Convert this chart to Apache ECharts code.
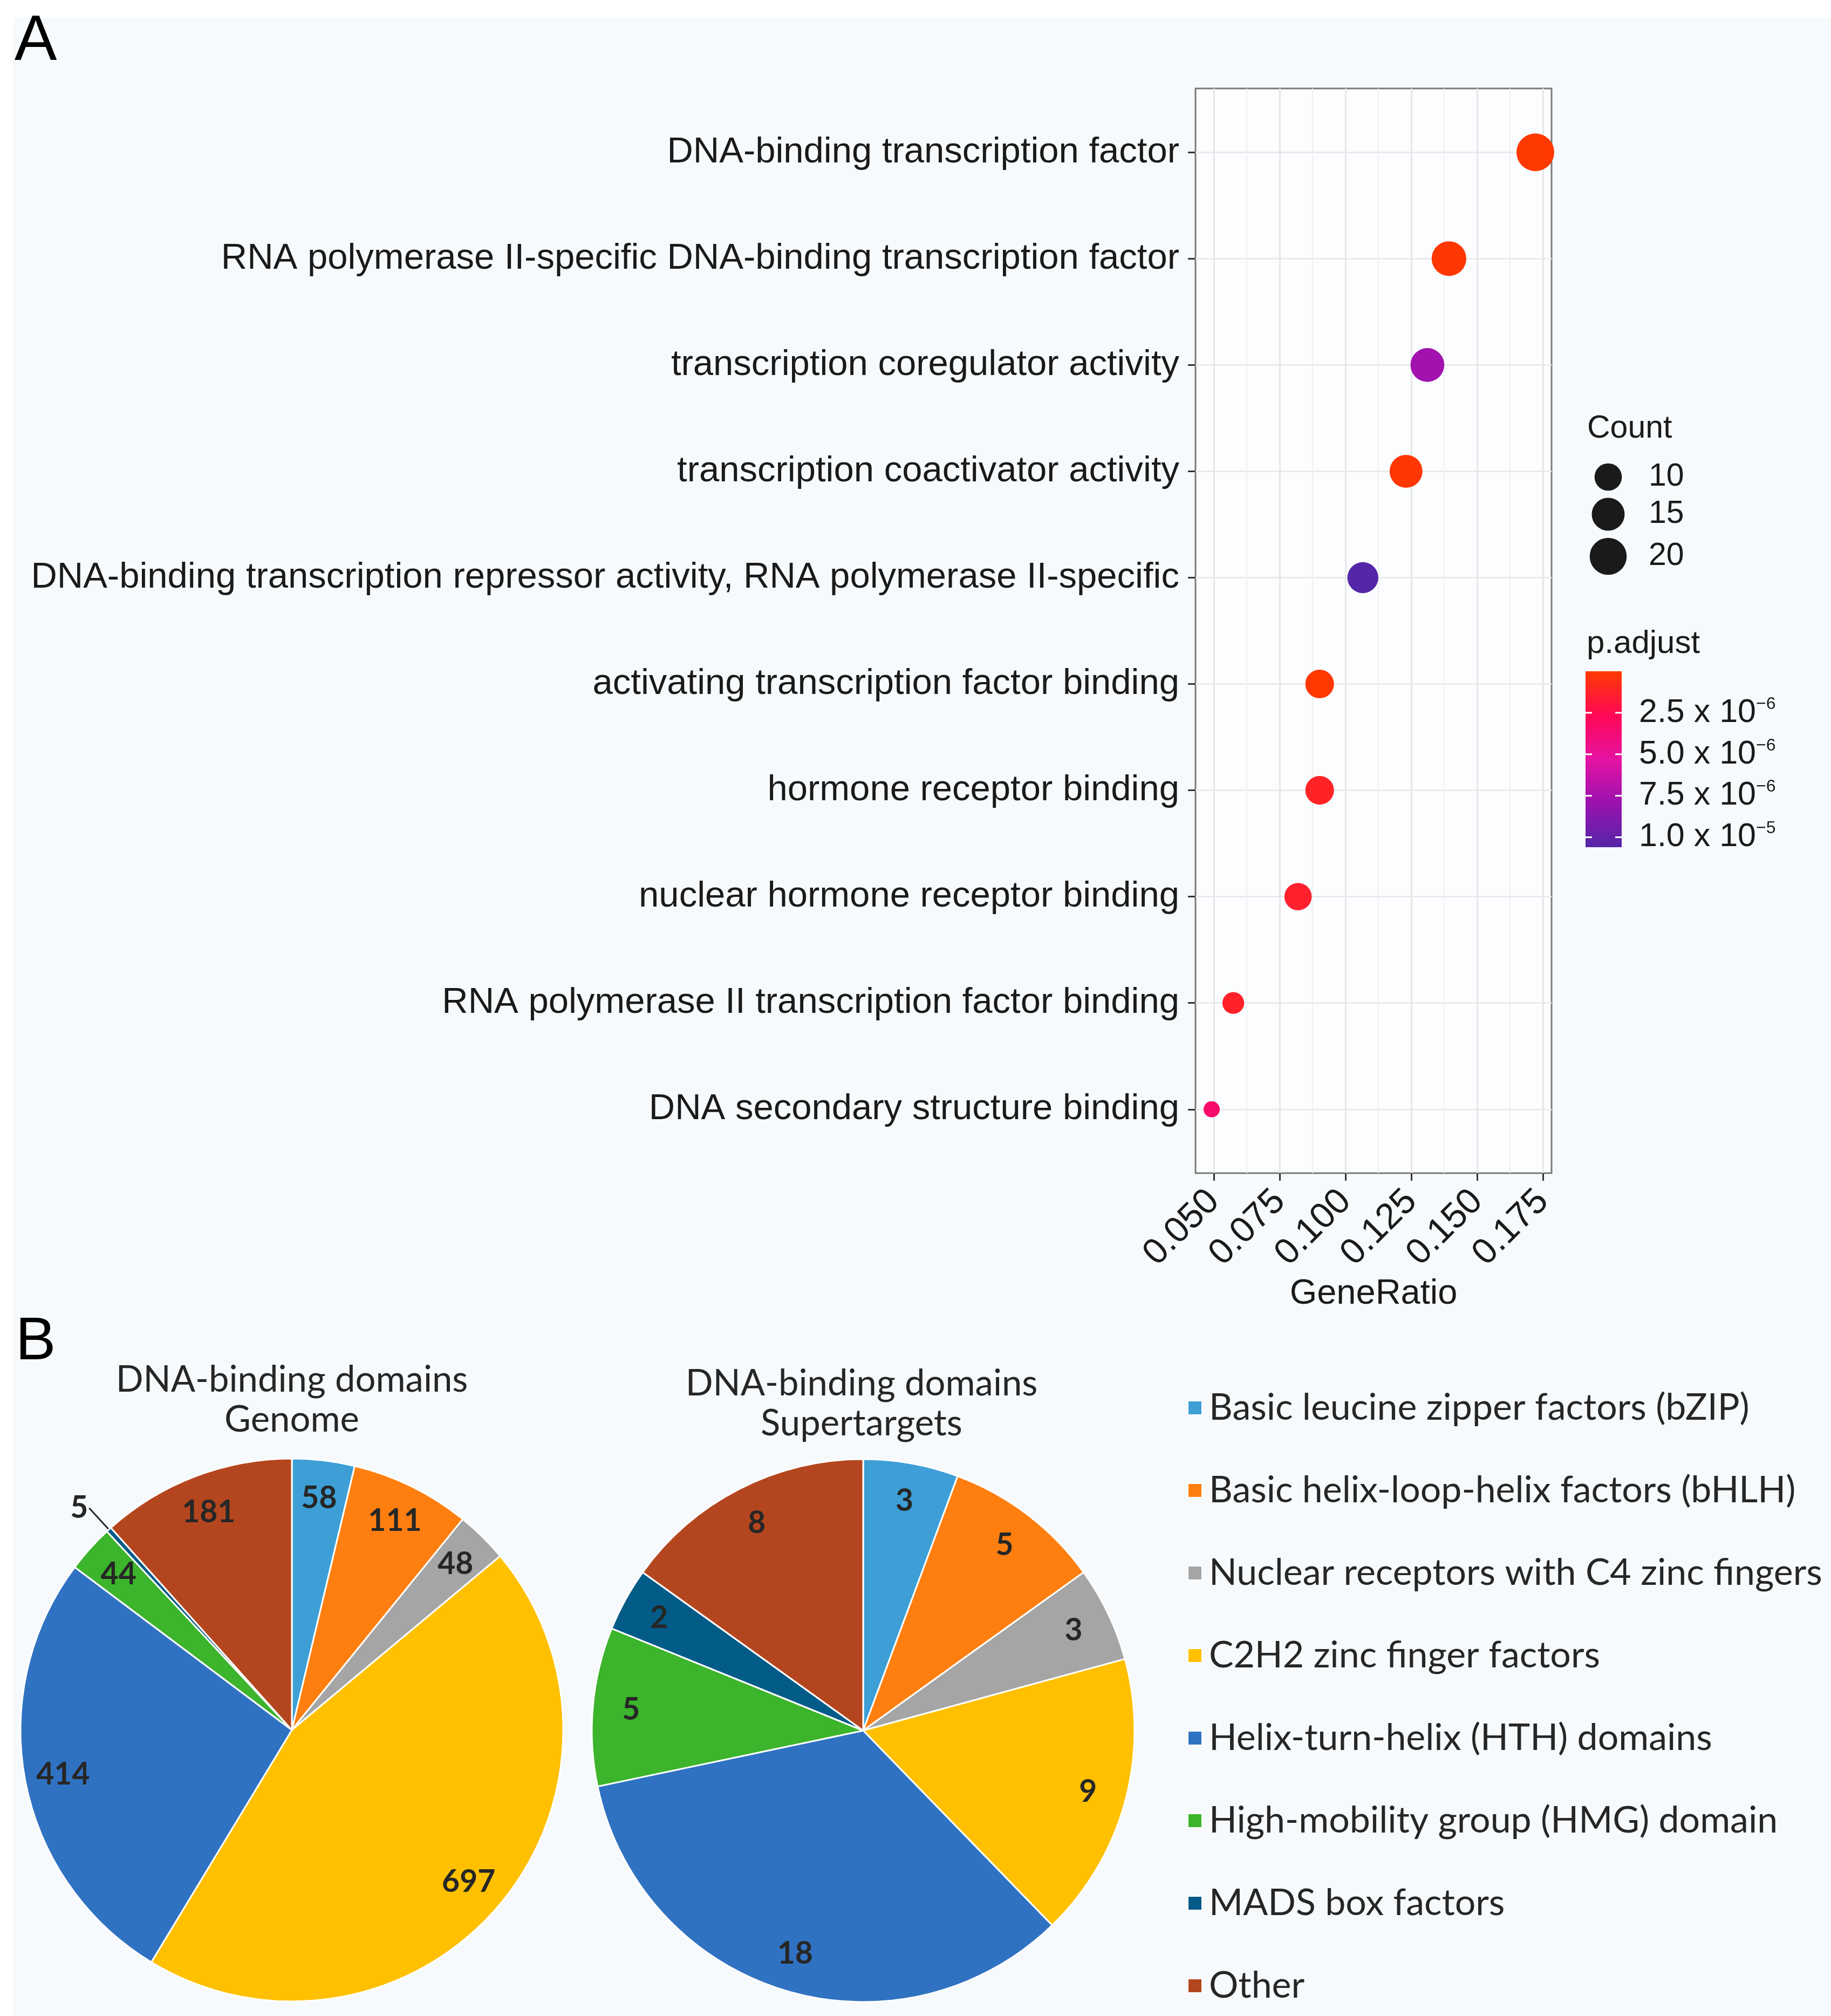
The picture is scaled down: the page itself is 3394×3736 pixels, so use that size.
<!DOCTYPE html>
<html>
<head>
<meta charset="utf-8">
<script src="https://cdn.jsdelivr.net/npm/echarts@6/dist/echarts.min.js"></script>
<style>html,body{margin:0;padding:0;background:#fff}#c{width:3394px;height:3736px}</style>
</head>
<body>
<div id="c"></div>
<script>
// ---------- Panel A data (GO enrichment dot plot) ----------
const categories = [
  'DNA-binding transcription factor',
  'RNA polymerase II-specific DNA-binding transcription factor',
  'transcription coregulator activity',
  'transcription coactivator activity',
  'DNA-binding transcription repressor activity, RNA polymerase II-specific',
  'activating transcription factor binding',
  'hormone receptor binding',
  'nuclear hormone receptor binding',
  'RNA polymerase II transcription factor binding',
  'DNA secondary structure binding'
];
const geneRatio = [0.1721, 0.1393, 0.1311, 0.1230, 0.1066, 0.0902, 0.0902, 0.0820, 0.0574, 0.0492];
const geneCount = [21, 17, 16, 15, 13, 11, 11, 10, 7, 6];
const pAdjust = [2.1e-8, 9.5e-8, 7.7e-6, 1.6e-7, 1.06e-5, 4.4e-8, 1.2e-6, 1.4e-6, 1.3e-6, 3.4e-6];
const xTicks = [0.050, 0.075, 0.100, 0.125, 0.150, 0.175];
const xMinorTicks = [0.0625, 0.0875, 0.1125, 0.1375, 0.1625];
const countBreaks = [10, 15, 20];
const padjBreaks = [2.5e-6, 5.0e-6, 7.5e-6, 1.0e-5];
const padjBreakMantissa = ['2.5', '5.0', '7.5', '1.0'];
const padjBreakExponent = ['6', '6', '6', '5'];

// ---------- Panel B data (pies) ----------
const domainNames = [
  'Basic leucine zipper factors (bZIP)',
  'Basic helix-loop-helix factors (bHLH)',
  'Nuclear receptors with C4 zinc fingers',
  'C2H2 zinc finger factors',
  'Helix-turn-helix (HTH) domains',
  'High-mobility group (HMG) domain',
  'MADS box factors',
  'Other'
];
const genomeCounts = [58, 111, 48, 697, 414, 44, 5, 181];
const supertargetCounts = [3, 5, 3, 9, 18, 5, 2, 8];

// ---------- styles ----------
const domainColors = ['#3D9FD6', '#FE7F10', '#A5A5A5', '#FFC000', '#3072C2', '#3CB42C', '#035B88', '#B4461F'];
const padjColors = ['#FF3A00', '#FF0855', '#E612A2', '#9A12B0', '#5426A8'];
const GG = "'Liberation Sans', Arial, Helvetica, sans-serif";
const XL = "Lato, 'Liberation Sans', sans-serif";
const INK = '#1a1a1a';
const XINK = '#262626';

const _ctx = document.createElement('canvas').getContext('2d');
function fitSize(text, weight, family, target) {
  _ctx.font = weight + ' 100px ' + family;
  return Math.round(100 * target / _ctx.measureText(text).width);
}

// ggplot-like continuous expansion (5%)
const gMin = Math.min(...geneRatio), gMax = Math.max(...geneRatio);
const xLo = gMin - 0.05 * (gMax - gMin), xHi = gMax + 0.05 * (gMax - gMin);
const cMin = Math.min(...geneCount), cMax = Math.max(...geneCount);
const sizeOf = c => 30 + 40 * Math.sqrt(Math.max(0, (c - cMin) / (cMax - cMin)));
const pMax = Math.max(...pAdjust);
const rowIdx = categories.map((_, i) => i + 1);

const scatterData = categories.map((c, i) => [geneRatio[i], i + 1, geneCount[i], pAdjust[i]]);

// layout
const grid = {left: 2216, top: 164, width: 660, height: 2010};
const cbar = {x: 2939, y: 1244, w: 67, h: 326};
const countLegendY = [884, 953, 1031];

const titleSize = fitSize('DNA-binding domains', 'normal', XL, 652);
const legendSize = fitSize('Nuclear receptors with C4 zinc fingers', 'normal', XL, 1133);
const pieLabelSize = fitSize('181', 'bold', XL, 100);

const graphics = [
  {type: 'rect', shape: {x: 0, y: 0, width: 3394, height: 33}, style: {fill: '#ffffff'}, silent: true},
  {type: 'rect', shape: {x: 0, y: 0, width: 24, height: 3736}, style: {fill: '#ffffff'}, silent: true},
  {type: 'text', style: {text: 'A', x: 66, y: 78, font: '118px ' + GG, fill: '#000', align: 'center', verticalAlign: 'middle'}},
  {type: 'text', style: {text: 'B', x: 66, y: 2488, font: '112px ' + GG, fill: '#000', align: 'center', verticalAlign: 'middle'}},
  {type: 'text', style: {text: 'Count', x: 2942, y: 795, font: '59px ' + GG, fill: INK, align: 'left', verticalAlign: 'middle'}},
  {type: 'text', style: {text: 'p.adjust', x: 2941, y: 1193, font: '60px ' + GG, fill: INK, align: 'left', verticalAlign: 'middle'}},
  {type: 'rect', shape: {x: cbar.x, y: cbar.y, width: cbar.w, height: cbar.h},
   style: {fill: new echarts.graphic.LinearGradient(0, 0, 0, 1,
      padjColors.map((c, i) => ({offset: i / (padjColors.length - 1), color: c})))}},
  {type: 'text', style: {text: 'DNA-binding domains\nGenome', x: 541, y: 2594, font: titleSize + 'px ' + XL,
     lineHeight: 74, fill: XINK, align: 'center', verticalAlign: 'middle'}},
  {type: 'text', style: {text: 'DNA-binding domains\nSupertargets', x: 1597, y: 2601, font: titleSize + 'px ' + XL,
     lineHeight: 74, fill: XINK, align: 'center', verticalAlign: 'middle'}}
];
countBreaks.forEach((c, i) => {
  graphics.push({type: 'circle', shape: {cx: 2981, cy: countLegendY[i], r: sizeOf(c) / 2}, style: {fill: INK}});
  graphics.push({type: 'text', style: {text: String(c), x: 3056, y: countLegendY[i], font: '59px ' + GG, fill: INK, align: 'left', verticalAlign: 'middle'}});
});
padjBreaks.forEach((v, i) => {
  const y = cbar.y + v / pMax * cbar.h;
  graphics.push({type: 'line', shape: {x1: cbar.x, y1: y, x2: cbar.x + 12, y2: y}, style: {stroke: '#ffffff', lineWidth: 3}});
  graphics.push({type: 'line', shape: {x1: cbar.x + cbar.w - 12, y1: y, x2: cbar.x + cbar.w, y2: y}, style: {stroke: '#ffffff', lineWidth: 3}});
  graphics.push({type: 'text', style: {
    text: '{m|' + padjBreakMantissa[i] + ' x 10}{s|\u2212' + padjBreakExponent[i] + '}',
    x: 3038, y: y, align: 'left', verticalAlign: 'middle',
    rich: {
      m: {fontSize: 61, fontFamily: GG, fill: INK, lineHeight: 64},
      s: {fontSize: 32, fontFamily: GG, fill: INK, lineHeight: 26, verticalAlign: 'top'}
    }}});
});

const piePart = (center, counts, labelled) => {
  const data = domainNames.map((n, i) => ({name: n, value: counts[i]}));
  if (!labelled) {
    data.forEach((d, i) => { d.itemStyle = {color: domainColors[i]}; });
    return {type: 'pie', center: center, radius: [0, 503], startAngle: 90, clockwise: true,
      data: data, label: {show: false}, labelLine: {show: false}, silent: true,
      emphasis: {disabled: true}, itemStyle: {borderColor: '#ffffff', borderWidth: 3}};
  }
  return {type: 'pie', center: center, radius: [355, 503], startAngle: 90, clockwise: true,
    data: data, silent: true, emphasis: {disabled: true}, avoidLabelOverlap: false,
    itemStyle: {color: 'rgba(0,0,0,0)', borderWidth: 0},
    label: {show: true, position: 'inside', formatter: '{c}', fontSize: pieLabelSize, fontWeight: 'bold',
      fontFamily: XL, color: XINK},
    labelLine: {show: false}};
};

const genomeLabels = piePart([541, 3206], genomeCounts, true);
// tiny MADS slice gets an outside label with a leader line
genomeLabels.data[6].label = {position: 'outside', distanceToLabelLine: 2};
genomeLabels.data[6].labelLine = {show: true, length: 54, length2: 0, lineStyle: {color: XINK, width: 3}};

const option = {
  animation: false,
  backgroundColor: '#F7FAFC',
  textStyle: {fontFamily: GG},
  grid: [{left: grid.left, top: grid.top, width: grid.width, height: grid.height, show: true,
    backgroundColor: '#FBFDFE', borderColor: '#7a7a7a', borderWidth: 3, outerBoundsMode: 'none', containLabel: false}],
  xAxis: [
    {type: 'value', gridIndex: 0, min: xLo, max: xHi, position: 'bottom',
     axisLine: {show: false},
     axisTick: {show: true, customValues: xTicks, length: 14, lineStyle: {color: '#333', width: 3}},
     axisLabel: {customValues: xTicks, rotate: 45, margin: 42, fontSize: 67, color: INK, fontFamily: GG,
       formatter: v => v.toFixed(3)},
     splitLine: {show: true, lineStyle: {color: '#E4E6E8', width: 3}},
     name: 'GeneRatio', nameLocation: 'middle', nameGap: 190,
     nameTextStyle: {fontSize: 65, color: INK, fontFamily: GG}},
    {type: 'value', gridIndex: 0, min: xLo, max: xHi, position: 'bottom',
     axisLine: {show: false}, axisTick: {show: false, customValues: xMinorTicks}, axisLabel: {show: false},
     splitLine: {show: true, lineStyle: {color: '#EEF0F1', width: 2}}}
  ],
  yAxis: [
    {type: 'value', gridIndex: 0, min: 0.4, max: 10.6, inverse: true,
     axisLine: {show: false},
     axisTick: {show: true, customValues: rowIdx, length: 14, lineStyle: {color: '#333', width: 3}},
     axisLabel: {customValues: rowIdx, margin: 30, fontSize: 67, color: INK, fontFamily: GG,
       formatter: v => categories[Math.round(v) - 1] || ''},
     splitLine: {show: true, lineStyle: {color: '#E8EAEC', width: 3}}}
  ],
  visualMap: [{type: 'continuous', show: false, seriesIndex: 0, dimension: 3, min: 0, max: pMax,
    inRange: {color: padjColors}}],
  legend: {
    data: domainNames, orient: 'vertical', left: 2201, top: 2572, icon: 'rect',
    itemWidth: 26, itemHeight: 26, itemGap: 79, padding: 0,
    textStyle: {fontSize: legendSize, fontFamily: XL, color: XINK, lineHeight: 74, padding: [0, 0, 0, 8]},
    selectedMode: false
  },
  graphic: {elements: graphics},
  series: [
    {type: 'scatter', xAxisIndex: 0, yAxisIndex: 0, data: scatterData,
     symbolSize: v => sizeOf(v[2]), itemStyle: {opacity: 1}, z: 5},
    piePart([541, 3206], genomeCounts, false),
    piePart([1600, 3207], supertargetCounts, false),
    genomeLabels,
    piePart([1600, 3207], supertargetCounts, true)
  ]
};

const chart = echarts.init(document.getElementById('c'), null, {renderer: 'canvas', width: 3394, height: 3736});
chart.setOption(option);
</script>
</body>
</html>
